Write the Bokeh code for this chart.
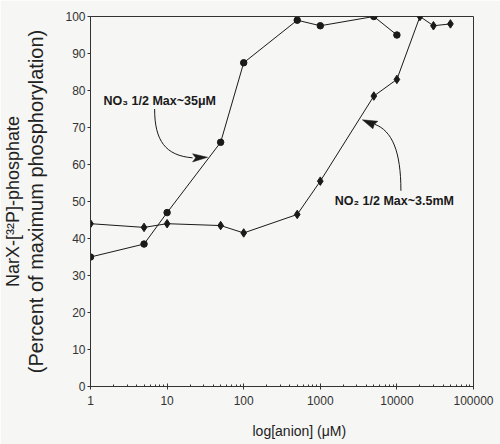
from bokeh.plotting import figure
from bokeh.models import FixedTicker, Title
from bokeh.embed import file_html
from bokeh.resources import INLINE
from bokeh.core.properties import value

# ---- data ----
no3_conc = [1, 5, 10, 50, 100, 500, 1000, 5000, 10000]
no3_pct = [35, 38.5, 47, 66, 87.5, 99, 97.5, 100, 95]
no2_conc = [1, 5, 10, 50, 100, 500, 1000, 5000, 10000, 20000, 30000, 50000]
no2_pct = [44, 43, 44, 43.5, 41.5, 46.5, 55.5, 78.5, 83, 100, 97.5, 98]
y_ticks = list(range(0, 101, 10))
x_ticks = [1, 10, 100, 1000, 10000, 100000]

FONT = "Liberation Sans"
BG = "#f6f6f4"
INK = "#1a1a1a"
GREY = "#333333"

p = figure(width=500, height=444, x_axis_type="log",
           x_range=(1, 100000), y_range=(0, 100),
           output_backend="svg", toolbar_location=None,
           min_border_left=90, min_border_right=27,
           min_border_top=16, min_border_bottom=58,
           background_fill_color=BG, border_fill_color=BG)
p.grid.visible = False
p.outline_line_color = GREY
p.outline_line_width = 1

# y axis
p.yaxis.ticker = FixedTicker(ticks=y_ticks)
p.yaxis.major_tick_in = 0
p.yaxis.major_tick_out = 3
p.yaxis.major_label_standoff = 2
p.yaxis.minor_tick_line_color = None
p.yaxis.axis_label = "(Percent of maximum phosphorylation)"
p.yaxis.axis_label_standoff = 15
p.yaxis.axis_label_text_font = FONT
p.yaxis.axis_label_text_font_size = "20px"
p.yaxis.axis_label_text_font_style = "normal"
p.yaxis.axis_label_text_color = "#222222"
# x axis
p.xaxis.ticker = FixedTicker(ticks=x_ticks,
                             minor_ticks=[m * d for d in x_ticks[:-1] for m in range(2, 10)])
p.xaxis.major_tick_in = 3
p.xaxis.major_tick_out = 3
p.xaxis.minor_tick_in = 2
p.xaxis.minor_tick_out = 0
p.xaxis.major_label_standoff = 6
p.xaxis.major_label_overrides = {t: str(t) for t in x_ticks}
p.xaxis.minor_tick_line_color = GREY
p.xaxis.axis_label = " "
p.xaxis.axis_label_text_font_size = "1px"
p.xaxis.axis_label_standoff = 8
for ax in (p.xaxis, p.yaxis):
    ax.axis_line_color = GREY
    ax.major_tick_line_color = GREY
    ax.major_label_text_font = FONT
    ax.major_label_text_font_size = "12px"
    ax.major_label_text_color = GREY

# series
p.line(no3_conc, no3_pct, line_color=INK, line_width=1)
p.scatter(no3_conc, no3_pct, marker="circle", size=6.5, fill_color=INK, line_color=INK)
p.line(no2_conc, no2_pct, line_color=INK, line_width=1)
p.scatter(no2_conc, no2_pct, marker="diamond", size=8.5, fill_color=INK, line_color=INK)

# annotation arrows (curved)
p.bezier(x0=[6.87, 11280], y0=[75.0, 52.9],
         cx0=[6.87, 11280], cy0=[66.4, 63.7],
         cx1=[9.56, 8603], cy1=[62.4, 69.1],
         x1=[21.5, 5157], y1=[61.8, 70.86],
         line_color=INK, line_width=1)
p.patches(xs=[[33.8, 21.5, 23.6, 21.5], [3540, 5645, 5080, 4857]],
          ys=[[61.95, 62.9, 61.8, 60.7], [72.08, 71.68, 70.86, 69.65]],
          fill_color=INK, line_color=INK, line_width=0.5)

p.text(x=[1.48], y=[77.2], text=["NO\u2083 1/2 Max~35\u03bcM"],
       text_font=value(FONT), text_font_style="bold", text_font_size=value("12.5px"),
       text_baseline="middle", text_align="left", text_color=INK)
p.text(x=[1547], y=[50.05], text=["NO\u2082 1/2 Max~3.5mM"],
       text_font=value(FONT), text_font_style="bold", text_font_size=value("12.5px"),
       text_baseline="middle", text_align="left", text_color=INK)

# axis titles
p.add_layout(Title(text="log[anion]  (\u03bcM)", align="left", offset=162,
                   text_font=FONT, text_font_size="14px", text_font_style="normal",
                   text_color="#222222", standoff=2), "below")
p.add_layout(Title(text="NarX-[\u00b3\u00b2P]-phosphate", align="center",
                   text_font=FONT, text_font_size="18px", text_font_style="normal",
                   text_color="#222222", standoff=0), "left")

open("out.html", "w").write(file_html(p, INLINE))
